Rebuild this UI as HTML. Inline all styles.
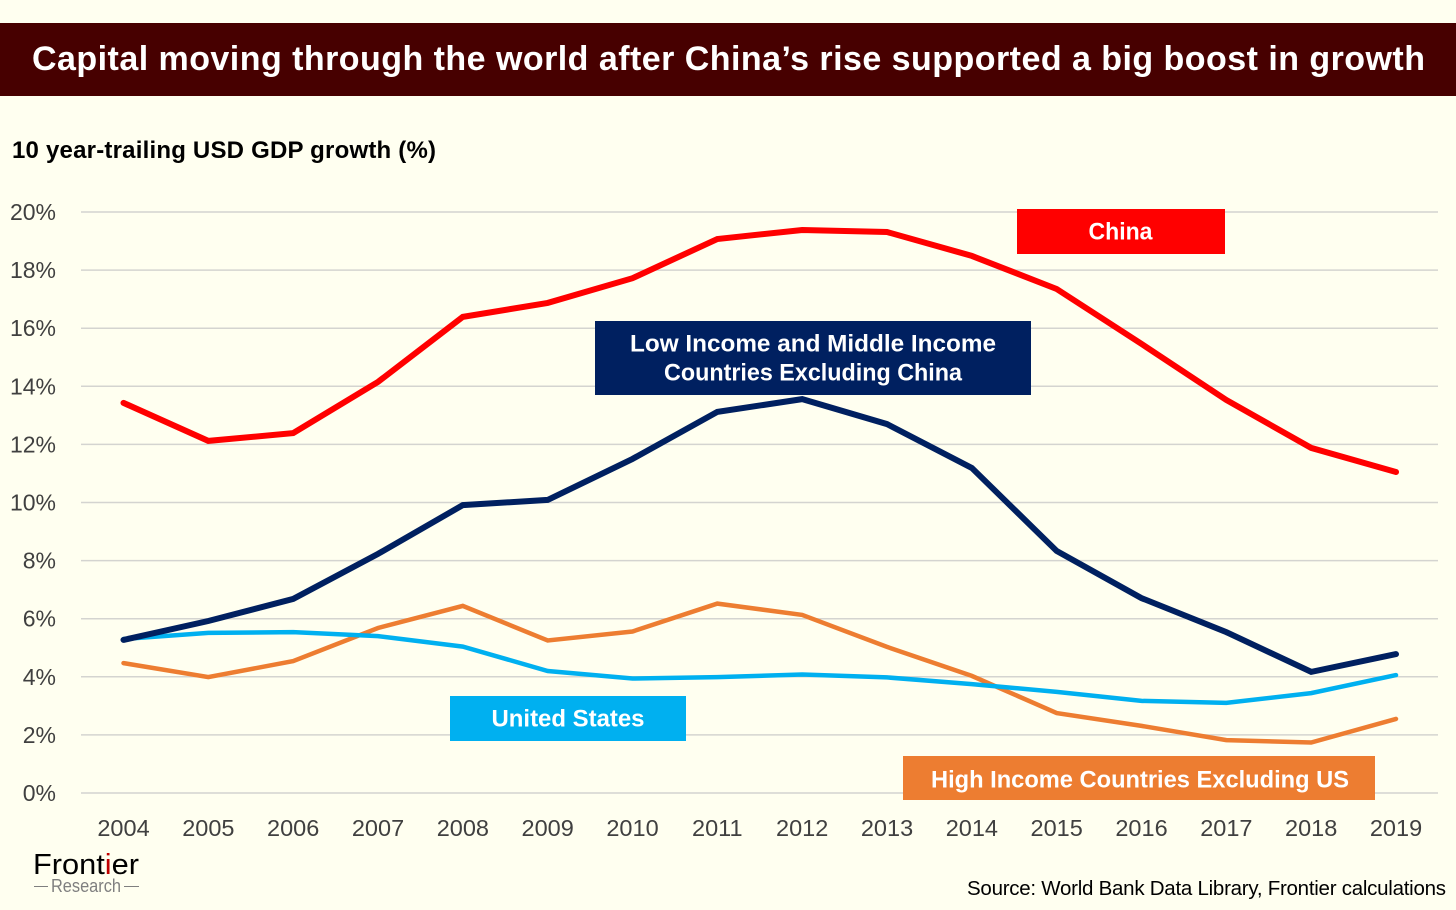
<!DOCTYPE html>
<html lang="en">
<head>
<meta charset="utf-8">
<title>Capital moving through the world after China's rise</title>
<style>
html,body{margin:0;padding:0;background:#FFFFF0;}
svg{display:block;font-family:"Liberation Sans",sans-serif;}
</style>
</head>
<body>
<svg id="chart" xmlns="http://www.w3.org/2000/svg" width="1456" height="910" viewBox="0 0 1456 910">
  <rect x="0" y="0" width="1456" height="910" fill="#FFFFF0"/>
  <rect x="0" y="23" width="1456" height="73" fill="#470000"/>
  <text x="32" y="70" font-size="34" font-weight="700" fill="#ffffff" textLength="1393" lengthAdjust="spacing">Capital moving through the world after China’s rise supported a big boost in growth</text>
  <text x="12" y="158" font-size="24" font-weight="700" fill="#000000" textLength="424" lengthAdjust="spacing">10 year-trailing USD GDP growth (%)</text>
  <g id="grid"></g>
  <g id="yticks"></g>
  <g id="xticks"></g>
  <g id="series"></g>

  <rect x="1017" y="209" width="208" height="45" fill="#FF0000"/>
  <text x="1120.5" y="239.5" font-size="24" font-weight="700" fill="#ffffff" text-anchor="middle" textLength="64" lengthAdjust="spacingAndGlyphs">China</text>

  <rect x="595" y="321" width="436" height="74" fill="#002060"/>
  <text x="813" y="351.5" font-size="24" font-weight="700" fill="#ffffff" text-anchor="middle" textLength="366" lengthAdjust="spacingAndGlyphs">Low Income and Middle Income</text>
  <text x="813" y="380.5" font-size="24" font-weight="700" fill="#ffffff" text-anchor="middle" textLength="298" lengthAdjust="spacingAndGlyphs">Countries Excluding China</text>

  <rect x="450" y="696" width="236" height="45" fill="#00B0F0"/>
  <text x="568" y="726.5" font-size="24" font-weight="700" fill="#ffffff" text-anchor="middle" textLength="153" lengthAdjust="spacingAndGlyphs">United States</text>

  <rect x="903" y="756" width="472" height="44" fill="#ED7D31"/>
  <text x="1140" y="787.5" font-size="24" font-weight="700" fill="#ffffff" text-anchor="middle" textLength="418" lengthAdjust="spacingAndGlyphs">High Income Countries Excluding US</text>

  <g>
    <text x="33" y="874" font-size="29" fill="#000000" textLength="106" lengthAdjust="spacingAndGlyphs">Front<tspan fill="#C00000">i</tspan>er</text>
    <text x="51" y="892" font-size="18" fill="#7F7F7F" textLength="70" lengthAdjust="spacingAndGlyphs">Research</text>
    <rect x="34" y="886" width="14" height="1" fill="#7F7F7F"/>
    <rect x="124" y="886" width="15" height="1" fill="#7F7F7F"/>
  </g>

  <text x="967" y="895" font-size="20.5" fill="#000000" textLength="479" lengthAdjust="spacing">Source: World Bank Data Library, Frontier calculations</text>
</svg>
<script>
var years = [2004,2005,2006,2007,2008,2009,2010,2011,2012,2013,2014,2015,2016,2017,2018,2019];
var yTickValues = [0,2,4,6,8,10,12,14,16,18,20];
var chinaValues = [13.43,12.12,12.39,14.15,16.39,16.87,17.72,19.07,19.38,19.31,18.49,17.35,15.46,13.53,11.88,11.05];
var lowMiddleValues = [5.27,5.92,6.68,8.23,9.91,10.09,11.5,13.12,13.56,12.7,11.19,8.33,6.71,5.54,4.17,4.78];
var unitedStatesValues = [5.3,5.51,5.54,5.4,5.04,4.2,3.94,3.99,4.08,3.98,3.75,3.48,3.17,3.1,3.44,4.06];
var highIncomeValues = [4.47,3.99,4.54,5.68,6.44,5.25,5.56,6.52,6.13,5.03,4.03,2.75,2.31,1.82,1.74,2.55];

var NS = 'http://www.w3.org/2000/svg';
function xScale(i){ return 123.5 + i * (1396 - 123.5) / (years.length - 1); }
function yScale(v){ return 793 - v * (793 - 212) / 20; }

var grid = document.getElementById('grid');
var yticks = document.getElementById('yticks');
yTickValues.forEach(function(v){
  var line = document.createElementNS(NS, 'line');
  line.setAttribute('x1', 81);
  line.setAttribute('x2', 1438);
  line.setAttribute('y1', yScale(v));
  line.setAttribute('y2', yScale(v));
  line.setAttribute('stroke', '#D4D4D0');
  line.setAttribute('stroke-width', 1.5);
  
  
  grid.appendChild(line);
  var label = document.createElementNS(NS, 'text');
  label.setAttribute('x', 56);
  label.setAttribute('y', yScale(v) + 8);
  label.setAttribute('text-anchor', 'end');
  label.setAttribute('font-size', 23);
  label.setAttribute('fill', '#404040');
  
  
  label.textContent = v + '%';
  yticks.appendChild(label);
});

var xticks = document.getElementById('xticks');
years.forEach(function(year, i){
  var label = document.createElementNS(NS, 'text');
  label.setAttribute('x', xScale(i));
  label.setAttribute('y', 836);
  label.setAttribute('text-anchor', 'middle');
  label.setAttribute('font-size', 23.5);
  label.setAttribute('fill', '#404040');
  
  
  label.textContent = year;
  xticks.appendChild(label);
});

function drawSeries(values, color, width, name){
  var pts = values.map(function(v, i){ return xScale(i).toFixed(1) + ',' + yScale(v).toFixed(1); }).join(' ');
  var line = document.createElementNS(NS, 'polyline');
  line.setAttribute('points', pts);
  line.setAttribute('fill', 'none');
  line.setAttribute('stroke', color);
  line.setAttribute('stroke-width', width);
  line.setAttribute('stroke-linecap', 'round');
  line.setAttribute('stroke-linejoin', 'miter');
  
  
  document.getElementById('series').appendChild(line);
}
drawSeries(highIncomeValues, '#ED7D31', 4.5, 'high-income-line');
drawSeries(unitedStatesValues, '#00B0F0', 4.5, 'united-states-line');
drawSeries(lowMiddleValues, '#002060', 6, 'low-middle-income-line');
drawSeries(chinaValues, '#FF0000', 6, 'china-line');
</script>
</body>
</html>
